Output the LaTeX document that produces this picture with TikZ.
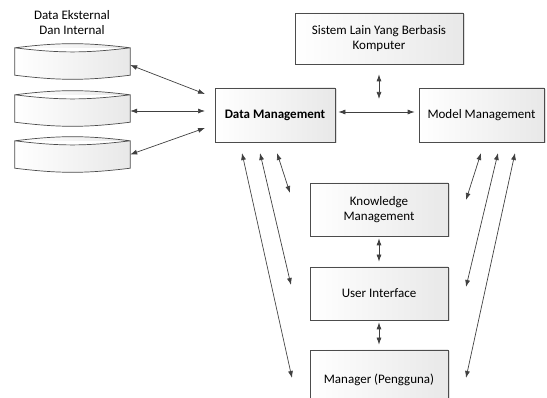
\documentclass[tikz,border=0pt]{standalone}
\usepackage{fontspec}
\setmainfont{Carlito}
\usetikzlibrary{arrows.meta,shadows}
\begin{document}
\begin{tikzpicture}[x=1pt, y=-1pt]
	\tikzset{n/.style={draw=black!70, line width=0.7pt, left color=white, right color=black!9,
		drop shadow={shadow xshift=1.5pt, shadow yshift=-1.5pt, fill=black!25},
		align=center, font=\fontsize{13}{15}\selectfont},
	dr/.style={minimum width=115, minimum height=27, inner sep=0pt},
	f/.style={<->, >={Latex[length=7pt,width=5pt]}, draw=black!75, line width=0.7pt}};

	\clip (0,0) rectangle (547,398);

	\node[align=center, font=\fontsize{13}{15}\selectfont] (ttl) at (72,23) {Data Eksternal\\Dan Internal};

	\node[dr] (d1) at (72.5,61.5) {};
	\node[dr] (d2) at (72.5,108.5) {};
	\node[dr] (d3) at (72.5,154.5) {};
	\foreach \d in {d1,d2,d3}
		\draw[draw=black!70, line width=0.7pt, left color=white, right color=black!9]
			(\d.north west) to[bend left=7] (\d.north east) -- (\d.south east)
			to[bend left=7] (\d.south west) -- cycle
			(\d.north west) to[bend right=7] (\d.north east);

	\node[n, minimum width=168, minimum height=51] (sis) at (379,38.5) {Sistem Lain Yang Berbasis\\Komputer};
	\node[n, minimum width=120, minimum height=54, font=\fontsize{13}{15}\selectfont\bfseries] (dm) at (275,115) {Data Management};
	\node[n, minimum width=125, minimum height=54] (mm) at (481.5,115) {Model Management};
	\node[n, minimum width=138, minimum height=53] (km) at (379,209.5) {Knowledge\\Management};
	\node[n, minimum width=138, minimum height=53] (ui) at (379,293.5) {User Interface};
	\node[n, minimum width=138, minimum height=60] (mg) at (379,380) {Manager (Pengguna)};

	% ujung panah yang bebas
	\coordinate (a1) at (205,94);
	\coordinate (a2) at (205,111);
	\coordinate (a3) at (205,128);
	\coordinate (sx) at (379,99);
	\coordinate (l1) at (242,153);
	\coordinate (l2) at (260,153);
	\coordinate (l3) at (277,153);
	\coordinate (lk) at (290,193);
	\coordinate (lu) at (291,285);
	\coordinate (lm) at (292,378);
	\coordinate (r1) at (481,153);
	\coordinate (r2) at (498,153);
	\coordinate (r3) at (515,153);
	\coordinate (rk) at (466,200);
	\coordinate (ru) at (466,287);
	\coordinate (rm) at (466,378);

	\draw[f] ([yshift=-3.5]d1.east) -- (a1);
	\draw[f] ([yshift=-2.5]d2.east) -- (a2);
	\draw[f] (d3.east) -- (a3);
	\draw[f, shorten <=10pt] (sis.south) -- (sx);
	\draw[f, shorten <=3pt, shorten >=4pt] ([yshift=3]dm.east) -- ([yshift=3]mm.west);
	\draw[f] (l1) -- (lm);
	\draw[f] (l2) -- (lu);
	\draw[f] (l3) -- (lk);
	\draw[f] (r1) -- (rk);
	\draw[f] (r2) -- (ru);
	\draw[f] (r3) -- (rm);
	\draw[f, shorten <=2pt, shorten >=5pt] (km.south) -- (ui.north);
	\draw[f, shorten <=2pt, shorten >=5pt] (ui.south) -- (mg.north);
\end{tikzpicture}
\end{document}
